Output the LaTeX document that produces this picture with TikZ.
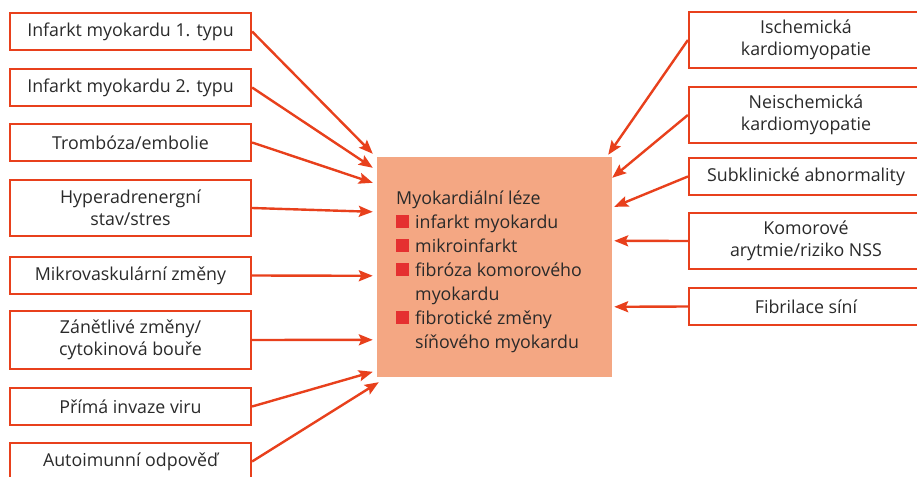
\documentclass[tikz,border=0pt]{standalone}
\usepackage{fontspec}
\setmainfont{Open Sans}
\usetikzlibrary{arrows.meta,calc}
\definecolor{bord}{HTML}{E8401C}
\definecolor{cfill}{HTML}{F4A783}
\definecolor{bul}{HTML}{E53030}
\definecolor{txt}{HTML}{2A2A2A}
\newcommand{\bulsq}{\textcolor{bul}{\rule[0.5pt]{13pt}{13pt}}}
\tikzset{
  cause/.style={draw=bord, line width=2.2pt, fill=white, text=txt, align=center,
    minimum width=241pt, inner sep=0pt, font=\fontsize{17.8}{22}\selectfont},
  rcause/.style={cause, minimum width=234pt},
  onel/.style={minimum height=37pt},
  twol/.style={minimum height=56pt},
  lesion/.style={fill=cfill, minimum width=235pt, minimum height=220pt, inner sep=0pt},
  conn/.style={draw=bord, line width=2.4pt, -{Stealth[length=14pt,width=11pt,inset=2.5pt]}}
}
\begin{document}
\begin{tikzpicture}[x=1pt,y=-1pt]
\clip (0,0) rectangle (917,476);
\useasboundingbox (0,0) rectangle (917,476);
\node[lesion] (C) at (494.5,267) {};
\node[anchor=north west, text=txt, inner sep=0pt, font=\fontsize{17.8}{24}\selectfont] (CT) at (396,187) {%
\begin{tabular}{@{}l@{\hspace{6pt}}l@{}}
\multicolumn{2}{@{}l@{}}{Myokardiální léze}\\
\bulsq & infarkt myokardu\\
\bulsq & mikroinfarkt\\
\bulsq & fibróza komorového\\
 & myokardu\\
\bulsq & fibrotické změny\\
 & síňového myokardu
\end{tabular}};
\node[cause,onel] (L1) at (130.5,31.5) {Infarkt myokardu 1. typu};
\node[cause,onel] (L2) at (130.5,87.5) {Infarkt myokardu 2. typu};
\node[cause,onel] (L3) at (130.5,142.5) {Trombóza/embolie};
\node[cause,twol] (L4) at (130.5,208) {Hyperadrenergní\\stav/stres};
\node[cause,onel] (L5) at (130.5,275.5) {Mikrovaskulární změny};
\node[cause,twol,minimum height=58pt] (L6) at (130.5,340) {Zánětlivé změny/\\cytokinová bouře};
\node[cause,onel] (L7) at (130.5,406.5) {Přímá invaze viru};
\node[cause,onel] (L8) at (130.5,461.5) {Autoimunní odpověď};
\node[rcause,twol] (R1) at (806,40) {Ischemická\\kardiomyopatie};
\node[rcause,twol] (R2) at (806,115) {Neischemická\\kardiomyopatie};
\node[rcause,onel] (R3) at (806,176.5) {Subklinické abnormality};
\node[rcause,twol] (R4) at (806,241) {Komorové\\arytmie/riziko NSS};
\node[rcause,onel] (R5) at (806,306.5) {Fibrilace síní};
\draw[conn] (L1.east) -- ($(C.north west)+(-4,-3)$);
\draw[conn] (L2.east) -- ($(C.north west)+(-4,11)$);
\draw[conn] (L3.east) -- ($(C.north west)+(-4,26)$);
\draw[conn] (L4.east) -- ($(C.north west)+(-4,55)$);
\draw[conn] (L5.east) -- ($(C.north west)+(-4,119)$);
\draw[conn] (L6.east) -- ($(C.north west)+(-4,183)$);
\draw[conn] (L7.east) -- ($(C.north west)+(-4,215)$);
\draw[conn] (L8.east) -- ($(C.south west)+(2,5)$);
\draw[conn] (R1.west) -- ($(C.north east)+(-4,-2)$);
\draw[conn] (R2.west) -- ($(C.north east)+(0,21)$);
\draw[conn] (R3.west) -- ($(C.north east)+(2,50)$);
\draw[conn] (R4.west) -- ($(C.north east)+(2,84)$);
\draw[conn] (R5.west) -- ($(C.north east)+(2,150)$);
\end{tikzpicture}
\end{document}
